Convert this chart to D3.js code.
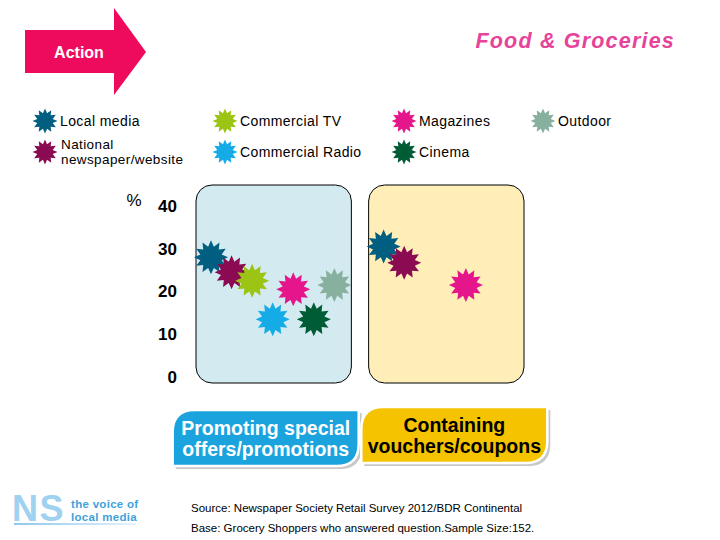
<!DOCTYPE html>
<html>
<head>
<meta charset="utf-8">
<script src="https://cdn.jsdelivr.net/npm/d3@7"></script>
<style>
  body { margin: 0; background: #fff; }
  svg { font-family: "Liberation Sans", Arial, sans-serif; }
</style>
</head>
<body>
<script>
// data
const categories = ["Promoting special offers/promotions", "Containing vouchers/coupons"]
const catLines = [["Promoting special", "offers/promotions"], ["Containing", "vouchers/coupons"]]
const series = ["Local media", "National newspaper/website", "Commercial TV", "Commercial Radio", "Magazines", "Cinema", "Outdoor"]
const promoting = [28, 24.5, 22.5, 13.5, 20.5, 13.5, 21.5]
const vouchers = [30.5, 26.7, null, null, 21.5, null, null]
const yTicks = [0, 10, 20, 30, 40]

const colors = ["#005E80", "#8A0B52", "#9CC414", "#14ABE6", "#E5168C", "#005C34", "#88B09E"]
const panelFill = ["#D3EAF0", "#FFEEB8"]
const pillFill = ["#1BA3DE", "#F5C300"]
const pillText = ["#fff", "#000"]

const w = 720
const h = 540

const svg = d3.select("body")
  .append("svg")
  .attr("width", w)
  .attr("height", h)

// star path, 12 spikes
function star(r1, r2) {
  const n = 12
  const pts = d3.range(n * 2).map(i => [i * Math.PI / n, i % 2 ? r2 : r1])
  return d3.lineRadial().curve(d3.curveLinearClosed)(pts)
}

//Action arrow
svg.append("path")
  .attr("d", "M25,30 L114,30 L114,8 L146,52 L114,95 L114,73 L25,73 Z")
  .attr("fill", "#EE0B5E")
svg.append("text")
  .attr("x", 79).attr("y", 58)
  .attr("text-anchor", "middle")
  .attr("fill", "#fff")
  .style("font-weight", "bold")
  .style("font-size", "16px")
  .text("Action")

//title
svg.append("text")
  .attr("x", 675).attr("y", 48)
  .attr("text-anchor", "end")
  .attr("fill", "#E6439A")
  .style("font-weight", "bold")
  .style("font-style", "italic")
  .style("font-size", "21.5px")
  .style("letter-spacing", "1.2px")
  .text("Food & Groceries")

//legend
const legendX = [45, 225, 404, 543]
const legendY = [121, 152]
const legend = svg.selectAll(".legend")
  .data(series)
  .enter()
  .append("g")
  .attr("class", "legend")
  .attr("transform", (d, i) => "translate(" + legendX[Math.floor(i / 2)] + "," + legendY[i % 2] + ")")
legend.append("path")
  .attr("d", star(12.5, 8))
  .attr("fill", (d, i) => colors[i])
legend.append("text")
  .attr("x", 15)
  .attr("y", 5)
  .style("font-size", "14px")
  .style("letter-spacing", "0.4px")
  .each(function (d) {
    const t = d3.select(this)
    if (d.startsWith("National")) {
      t.style("font-size", "13.5px")
      t.append("tspan").attr("x", 16).attr("y", -3).text("National")
      t.append("tspan").attr("x", 16).attr("y", 12).text("newspaper/website")
    } else {
      t.text(d)
    }
  })

//scales
const xScale = d3.scaleBand()
  .domain(categories)
  .range([196, 524])
  .paddingInner(0.1)

const yScale = d3.scaleLinear()
  .domain([0, 40])
  .range([377, 206])

//Y-Axis
const yAxis = d3.axisLeft(yScale)
  .tickValues(yTicks)
  .tickSize(0)
  .tickPadding(0)
svg.append("g")
  .attr("id", "y-axis")
  .attr("transform", "translate(177, 0)")
  .call(yAxis)
  .call(g => g.select(".domain").remove())
  .selectAll("text")
  .attr("fill", "#000")
  .style("font-family", "'Liberation Sans', Arial, sans-serif")
  .style("font-weight", "bold")
  .style("font-size", "17px")
svg.append("text")
  .attr("x", 134).attr("y", 206)
  .attr("text-anchor", "middle")
  .style("font-size", "17px")
  .text("%")

//panels
const panelTop = yScale(40) - 21
const panelBottom = yScale(0) + 6
svg.selectAll(".panel")
  .data(categories)
  .enter()
  .append("rect")
  .attr("class", "panel")
  .attr("x", d => xScale(d))
  .attr("y", panelTop)
  .attr("width", xScale.bandwidth())
  .attr("height", panelBottom - panelTop)
  .attr("rx", 16)
  .attr("fill", (d, i) => panelFill[i])
  .attr("stroke", "#000")
  .attr("stroke-width", 1)

//stars
const values = [promoting, vouchers]
const points = []
categories.forEach((c, i) => {
  series.forEach((s, j) => {
    if (values[i][j] != null) points.push({ cat: c, s: s, j: j, v: values[i][j] })
  })
})

svg.selectAll(".star")
  .data(points)
  .enter()
  .append("path")
  .attr("class", "star")
  .attr("transform", d => {
    const inner = d3.scalePoint()
      .domain(series)
      .range([xScale(d.cat) + 15, xScale(d.cat) + xScale.bandwidth() - 17])
    return "translate(" + inner(d.s) + "," + yScale(d.v) + ")"
  })
  .attr("d", star(17, 11))
  .attr("fill", d => colors[d.j])

//category labels
const pillW = 186
const pillH = 56
function pill(x, y) {
  const r = 22
  return "M" + x + "," + (y + pillH) + " L" + x + "," + (y + r) +
    " Q" + x + "," + y + " " + (x + r) + "," + y +
    " L" + (x + pillW) + "," + y +
    " L" + (x + pillW) + "," + (y + pillH - r) +
    " Q" + (x + pillW) + "," + (y + pillH) + " " + (x + pillW - r) + "," + (y + pillH) + " Z"
}
const pills = svg.selectAll(".pill")
  .data(categories)
  .enter()
  .append("g")
  .attr("class", "pill")
  .attr("transform", (d, i) => {
    const cx = xScale(d) + xScale.bandwidth() / 2 + (i === 0 ? -8 : 8)
    return "translate(" + (cx - pillW / 2) + "," + (i === 0 ? 410 : 407) + ")"
  })
pills.append("path")
  .attr("d", pill(3, 3))
  .attr("fill", "#c8c8c8")
pills.append("path")
  .attr("d", pill(0, 0))
  .attr("fill", (d, i) => pillFill[i])
  .attr("stroke", "#fff")
  .attr("stroke-width", 2.5)
pills.each(function (d, i) {
  const g = d3.select(this)
  catLines[i].forEach((line, k) => {
    g.append("text")
      .attr("x", pillW / 2)
      .attr("y", 25 + k * 21)
      .attr("text-anchor", "middle")
      .attr("fill", pillText[i])
      .style("font-weight", "bold")
      .style("font-size", "19.5px")
      .text(line)
  })
})

//source
svg.append("text")
  .attr("x", 191).attr("y", 512)
  .style("font-size", "11.5px")
  .text("Source: Newspaper Society Retail Survey 2012/BDR Continental")
svg.append("text")
  .attr("x", 191).attr("y", 532)
  .style("font-size", "11.5px")
  .text("Base: Grocery Shoppers who answered question.Sample Size:152.")

//logo
const grad = svg.append("defs").append("linearGradient").attr("id", "ul")
grad.append("stop").attr("offset", "0%").attr("stop-color", "#8CC8EE")
grad.append("stop").attr("offset", "100%").attr("stop-color", "#E4F2FB")
svg.append("text")
  .attr("x", 12).attr("y", 521)
  .attr("fill", "#9FD1F1")
  .style("font-weight", "bold")
  .style("font-size", "36px")
  .style("letter-spacing", "1.5px")
  .text("NS")
svg.append("text")
  .attr("x", 71).attr("y", 508)
  .attr("fill", "#3FA2DA")
  .style("font-weight", "bold")
  .style("font-size", "11.5px")
  .style("letter-spacing", "0.3px")
  .text("the voice of")
svg.append("text")
  .attr("x", 71).attr("y", 520.5)
  .attr("fill", "#3FA2DA")
  .style("font-weight", "bold")
  .style("font-size", "11.5px")
  .style("letter-spacing", "0.3px")
  .text("local media")
svg.append("rect")
  .attr("x", 14).attr("y", 523)
  .attr("width", 122).attr("height", 2)
  .attr("fill", "url(#ul)")
</script>
</body>
</html>
